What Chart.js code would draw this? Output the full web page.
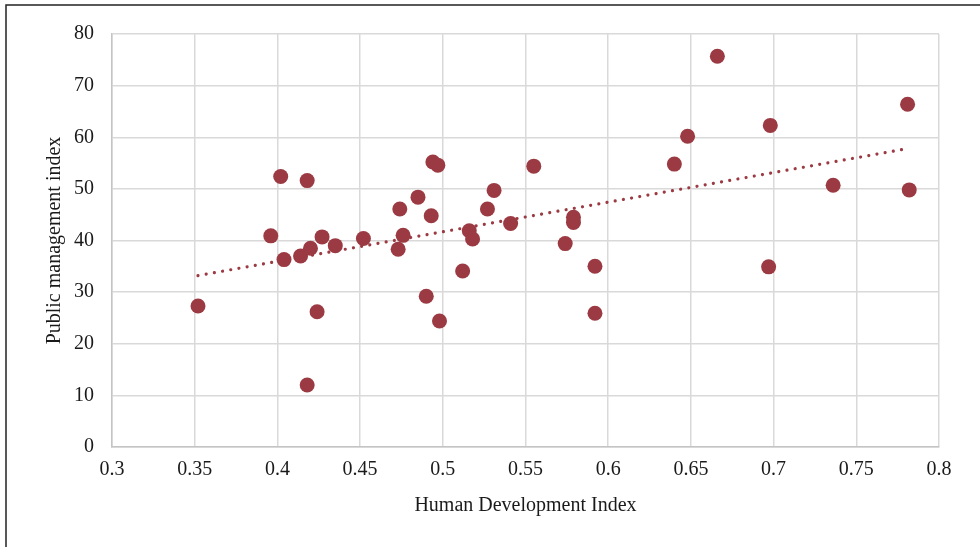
<!DOCTYPE html>
<html>
<head>
<meta charset="utf-8">
<script src="https://cdn.jsdelivr.net/npm/chart.js@4.4.1/dist/chart.umd.min.js"></script>
<style>
html, body { margin: 0; padding: 0; background: #fff; }
#chart { display: block; }
</style>
</head>
<body>
<canvas id="chart" width="980" height="547"></canvas>
<script>
// values
const hdi = [0.352, 0.396, 0.402, 0.404, 0.414, 0.418, 0.418, 0.420, 0.424, 0.427,
             0.435, 0.452, 0.473, 0.474, 0.476, 0.485, 0.490, 0.493, 0.494, 0.497,
             0.498, 0.512, 0.516, 0.518, 0.527, 0.531, 0.541, 0.555, 0.574, 0.579,
             0.579, 0.592, 0.592, 0.640, 0.648, 0.666, 0.697, 0.698, 0.736, 0.781, 0.782];
const pmi = [27.3, 40.9, 52.4, 36.3, 37.0, 51.6, 12.0, 38.5, 26.2, 40.7,
             39.0, 40.4, 38.3, 46.1, 41.0, 48.4, 29.2, 44.8, 55.2, 54.6,
             24.4, 34.1, 41.9, 40.3, 46.1, 49.7, 43.3, 54.4, 39.4, 44.5,
             43.5, 35.0, 25.9, 54.8, 60.2, 75.7, 34.9, 62.3, 50.7, 66.4, 49.8];
// trendline end points
const trendHdi = [0.352, 0.781];
const trendPmi = [33.2, 57.8];

const xTitle = 'Human Development Index';
const yTitle = 'Public management index';

const markColor = '#9b3a42';
const textColor = '#1a1a1a';
const fontFamily = '"Liberation Serif", "Times New Roman", serif';

const points = hdi.map((x, i) => ({ x: x, y: pmi[i] }));
const trend = trendHdi.map((x, i) => ({ x: x, y: trendPmi[i] }));

// outer frame, only top and left edges show in the picture
const framePlugin = {
    id: 'frame',
    beforeDraw(chart) {
        const ctx = chart.ctx;
        ctx.save();
        ctx.fillStyle = '#fff';
        ctx.fillRect(0, 0, chart.width, chart.height);
        ctx.strokeStyle = '#222';
        ctx.lineWidth = 1.5;
        ctx.beginPath();
        ctx.moveTo(6, chart.height);
        ctx.lineTo(6, 5);
        ctx.lineTo(chart.width, 5);
        ctx.stroke();
        ctx.restore();
    }
};

new Chart(document.getElementById('chart').getContext('2d'), {
    type: 'scatter',
    data: {
        datasets: [{
            label: 'Countries',
            data: points,
            backgroundColor: markColor,
            borderColor: markColor,
            borderWidth: 0,
            pointRadius: 7.5,
            order: 0
        }, {
            type: 'line',
            label: 'Linear trend',
            data: trend,
            showLine: true,
            borderColor: markColor,
            borderWidth: 3.2,
            borderDash: [0.01, 8.3],
            borderCapStyle: 'round',
            pointRadius: 0,
            fill: false,
            order: 1
        }]
    },
    options: {
        responsive: false,
        animation: false,
        devicePixelRatio: 1,
        layout: { padding: { top: 34, right: 41, left: 0, bottom: 0 } },
        plugins: {
            legend: { display: false },
            tooltip: { enabled: false },
            title: { display: false }
        },
        scales: {
            x: {
                type: 'linear',
                min: 0.3, max: 0.8,
                afterFit: scale => { scale.height = 100; },
                ticks: {
                    stepSize: 0.05,
                    padding: 11,
                    color: textColor,
                    font: { family: fontFamily, size: 20 },
                    callback: v => String(+v.toFixed(2))
                },
                grid: { color: '#d9d9d9', lineWidth: 1.5, drawTicks: false },
                border: { color: '#c4c4c4', width: 1.5 },
                title: {
                    display: true,
                    text: xTitle,
                    color: textColor,
                    font: { family: fontFamily, size: 20 },
                    padding: { top: 0, bottom: 29 }
                }
            },
            y: {
                min: 0, max: 80,
                afterFit: scale => { scale.width = 112; },
                ticks: {
                    stepSize: 10,
                    padding: 18,
                    color: textColor,
                    font: { family: fontFamily, size: 20 }
                },
                grid: { color: '#d9d9d9', lineWidth: 1.5, drawTicks: false },
                border: { color: '#c4c4c4', width: 1.5 },
                title: {
                    display: true,
                    text: yTitle,
                    color: textColor,
                    font: { family: fontFamily, size: 20 },
                    padding: { top: 43, bottom: 0 }
                }
            }
        }
    },
    plugins: [framePlugin]
});
</script>
</body>
</html>
